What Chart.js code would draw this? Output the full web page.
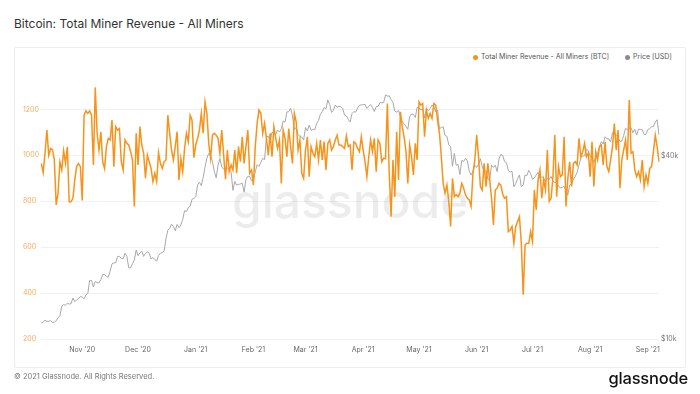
<!DOCTYPE html>
<html>
<head>
<meta charset="utf-8">
<script src="https://cdn.jsdelivr.net/npm/chart.js@4.4.1/dist/chart.umd.min.js"></script>
<style>
  html, body { margin: 0; padding: 0; background: #fff; }
  body { width: 700px; height: 394px; position: relative; overflow: hidden; font-family: Inter, "Noto Sans", sans-serif; }
  #title { position: absolute; left: 14px; top: 16px; font-size: 12px; line-height: 16px; color: #333; }
  #card { position: absolute; left: 14px; top: 47px; width: 672px; height: 321px; border: 1px solid #ececec; border-radius: 2px; box-sizing: border-box; }
  #legend { position: absolute; top: 52px; left: 473px; font-size: 7px; line-height: 9px; color: #555; white-space: nowrap; }
  #legend span.dot { display: inline-block; width: 5px; height: 5px; border-radius: 50%; margin-right: 3px; vertical-align: -0.5px; }
  #legend span.item { margin-right: 16px; }
  #footer { position: absolute; left: 14px; top: 372px; font-size: 7.5px; line-height: 10px; color: #777; }
  #logo { position: absolute; right: 12px; top: 368px; font-size: 16.5px; line-height: 20px; color: #111; font-weight: 500; letter-spacing: -0.2px; }
  canvas { position: absolute; left: 0; top: 0; }
</style>
</head>
<body>
<div id="title">Bitcoin: Total Miner Revenue - All Miners</div>
<div id="card"></div>
<div id="legend"><span class="item"><span class="dot" style="background:#f7931a"></span>Total Miner Revenue - All Miners [BTC]</span><span><span class="dot" style="background:#8a8a8a"></span>Price [USD]</span></div>
<canvas id="c" width="700" height="394"></canvas>
<div id="footer">© 2021 Glassnode. All Rights Reserved.</div>
<div id="logo">glassnode</div>
<script>
// ---- data (daily, starting 2020-10-10) ----
const startDate = '2020-10-10';

const revenueBTC = [
  965, 925, 1010, 1110, 1000, 1030, 1025, 980, 784, 835,
  972, 936, 1020, 965, 1037, 798, 798, 813, 893, 951,
  965, 951, 803, 1175, 1194, 1183, 1193, 1175, 958, 1296,
  1096, 1023, 1103, 972, 943, 1038, 1074, 1067, 1154, 951,
  1125, 1110, 1117, 972, 936, 1067, 1052, 1045, 1016, 980,
  777, 1096, 958, 1125, 1045, 1009, 900, 1001, 972, 943,
  886, 922, 886, 1012, 965, 943, 972, 980, 1175, 1096,
  1023, 980, 1038, 1103, 893, 987, 929, 1030, 1096, 1060,
  1175, 1154, 990, 1045,
  1074, 1110, 1183, 1096, 1233, 1183, 1052, 987, 1088, 1096,
  1088, 1074, 1009, 1110, 1001, 896, 1023, 929, 958, 936,
  1023, 922, 1038, 972, 1081, 965, 1038, 1110, 922, 936,
  871, 1038, 1139, 1197, 1183, 1096, 1139, 1074, 1001, 1096,
  994, 1125, 1074, 1030, 1067, 878, 1110, 1074, 994, 1117,
  1038, 965, 1183, 1146, 1023, 1067, 922, 900, 1023, 1081,
  907, 1038, 1009, 994, 1052, 980, 1067, 980, 1060, 936,
  1052, 1067, 1023, 1038, 1067, 1088, 1045, 1045, 1038, 1030,
  1085, 1038, 1045,
  936, 1059, 1052, 1030, 1016, 1081, 1023, 972, 907, 994,
  1067, 1016, 1074, 929, 1067, 1052, 972, 987, 985, 1226,
  922, 733, 980, 820, 1103, 893, 1190, 1125, 1081, 1016,
  878, 1045, 994, 915, 1052, 980, 1233, 1219, 1226, 1081,
  1197, 1161, 1183, 1161, 1226, 1219, 1150, 1096, 994, 878,
  835, 871, 799, 690, 900, 820, 828, 820, 835, 878,
  857, 828, 813, 806, 777, 920, 980, 1088, 994, 864,
  849, 965, 864, 965, 893, 813, 697, 849, 857, 878,
  870, 830, 813, 820,
  668, 675, 690, 617, 690, 712, 733, 617, 393, 610,
  617, 617, 668, 625, 849, 762, 893, 936, 813, 893,
  849, 1023, 799, 813, 907, 1088, 820, 951, 907, 915,
  1081, 777, 900, 972, 864, 965, 972, 958, 1074, 994,
  1016, 1052, 994, 1009, 907, 1059, 864, 1016, 980, 1038,
  1045, 958, 1059, 951, 929, 980, 1038, 1139, 1023, 1110,
  857, 980, 1023, 1067, 980, 1241, 1009, 1016, 936, 907,
  929, 893, 980, 864, 915, 878, 943, 951, 1016, 1088,
  1038, 972
];

const priceUSD = [
  // Oct 10 - Oct 31 2020
  11300, 11370, 11530, 11430, 11430, 11500, 11320, 11360, 11480, 11750, 11920, 12820, 12970, 12930, 13110, 13030, 13070, 13640, 13270, 13460, 13560, 13800,
  // Nov
  13740, 13550, 13960, 14130, 15580, 15580, 14830, 15480, 15330, 15300, 15700, 16280, 16320, 16070, 15960, 16730, 17680, 17800, 17820, 18680, 18710, 18420, 18370, 19160, 18720, 17150, 17140, 17720, 18180, 19630,
  // Dec
  18800, 19210, 19440, 18700, 19150, 19360, 19170, 18320, 18550, 18260, 18040, 18800, 19140, 19250, 19440, 21380, 22800, 23130, 23870, 23480, 22720, 23820, 23240, 23730, 24710, 26440, 26270, 27080, 27360, 28840, 29000,
  // Jan 2021
  29370, 32130, 32780, 31970, 33990, 36820, 39370, 40800, 40250, 38350, 35540, 33920, 37320, 39180, 36830, 36180, 35790, 36630, 36070, 35550, 30830, 32990, 32080, 32260, 32370, 32570, 30430, 33460, 34320, 34270, 33110,
  // Feb
  33510, 35510, 37470, 36930, 38140, 39270, 38900, 46200, 46480, 44920, 47910, 47500, 47110, 48720, 47940, 49200, 52150, 51680, 55890, 55920, 57490, 54210, 48820, 49710, 47080, 46340, 46190, 45140,
  // Mar
  49630, 48380, 50540, 48560, 48880, 48880, 51210, 52380, 54880, 55960, 57750, 57230, 61190, 59120, 55660, 56570, 58870, 57860, 58350, 58090, 57350, 54530, 54210, 52770, 51750, 55160, 55980, 55800, 57630, 58780, 58920,
  // Apr
  59030, 59130, 57380, 58220, 59110, 57780, 56060, 58130, 58200, 59990, 59860, 59950, 63540, 62970, 63110, 61330, 60110, 56200, 55780, 56470, 53860, 51760, 51090, 50050, 49000, 54020, 55030, 54820, 53560, 57750,
  // May
  57830, 56630, 57200, 53330, 57420, 56400, 57360, 58800, 58230, 55860, 56700, 49150, 49720, 49880, 46760, 46430, 43540, 42910, 37000, 40780, 37300, 37530, 34770, 38700, 38400, 39290, 38560, 35680, 34620, 35680, 37340,
  // Jun
  36690, 37580, 39190, 36880, 35520, 35800, 33590, 33470, 37350, 36690, 37310, 35550, 39100, 40520, 40140, 38350, 38050, 35790, 35480, 35600, 31680, 32510, 33690, 34660, 31640, 32160, 34640, 34490, 35870, 35040,
  // Jul
  33570, 33900, 34660, 35290, 33690, 34220, 33860, 32880, 33820, 33510, 34260, 33090, 32730, 32820, 31780, 31420, 31530, 31780, 30840, 29790, 32140, 32310, 33580, 34290, 35380, 37270, 39460, 40000, 40010, 42240, 41630,
  // Aug
  39970, 39200, 38150, 39750, 40870, 42830, 44610, 43790, 46280, 45600, 45550, 44430, 47790, 47100, 47040, 45990, 44700, 44800, 46720, 49340, 48900, 49320, 49550, 47710, 48990, 46850, 49070, 48900, 48810, 47050, 47170,
  // Sep 1 - Sep 7
  48850, 49280, 49940, 49940, 51770, 52660, 46860
];

const monthNames = ['Jan', 'Feb', 'Mar', 'Apr', 'May', 'Jun', 'Jul', 'Aug', 'Sep', 'Oct', 'Nov', 'Dec'];
const leftTicks = [200, 400, 600, 800, 1000, 1200];
const rightTicks = [10000, 40000];

// ---- build date categories ----
const dates = [];
{
  const t0 = Date.parse(startDate + 'T00:00:00Z');
  for (let i = 0; i < revenueBTC.length; i++) {
    const d = new Date(t0 + i * 86400000);
    dates.push(d.toISOString().slice(0, 10));
  }
}
function monthLabel(iso) {
  const [y, m, d] = iso.split('-');
  if (d !== '01') return '';
  return monthNames[parseInt(m, 10) - 1] + " '" + y.slice(2);
}

const watermark = {
  id: 'watermark',
  beforeDatasetsDraw(chart) {
    const { ctx, chartArea } = chart;
    ctx.save();
    ctx.font = '500 48px Inter, "Noto Sans", sans-serif';
    ctx.fillStyle = 'rgba(0,0,0,0.075)';
    ctx.textAlign = 'center';
    ctx.textBaseline = 'alphabetic';
    const cx = (chartArea.left + chartArea.right) / 2;
    const cy = chartArea.top + (chartArea.bottom - chartArea.top) * 0.54;
    ctx.fillText('glassnode', cx, cy);
    ctx.restore();
  }
};

new Chart(document.getElementById('c'), {
  type: 'line',
  data: {
    labels: dates,
    datasets: [
      {
        label: 'Total Miner Revenue - All Miners [BTC]',
        data: revenueBTC,
        yAxisID: 'y',
        borderColor: '#f7931a',
        borderWidth: 1.5,
        pointRadius: 0,
        tension: 0,
        fill: false
      },
      {
        label: 'Price [USD]',
        data: priceUSD,
        yAxisID: 'y2',
        borderColor: '#a8a8a8',
        borderWidth: 1,
        pointRadius: 0,
        tension: 0,
        fill: false
      }
    ]
  },
  options: {
    responsive: false,
    animation: false,
    layout: { padding: { left: 23, right: 0, top: 75, bottom: 35 } },
    plugins: { legend: { display: false }, tooltip: { enabled: false } },
    scales: {
      x: {
        type: 'category',
        grid: { display: false, drawTicks: false },
        border: { display: false },
        afterFit(s) { s.height = 20; },
        ticks: {
          autoSkip: false,
          maxRotation: 0,
          minRotation: 0,
          padding: 7,
          color: '#666',
          font: { family: 'Inter', size: 7 },
          callback(value) { return monthLabel(this.getLabelForValue(value)); }
        }
      },
      y: {
        position: 'left',
        min: 200,
        max: 1350,
        afterFit(s) { s.width = 18.3; },
        afterBuildTicks(s) { s.ticks = leftTicks.map(v => ({ value: v })); },
        grid: { color: '#f1f1f1', lineWidth: 1, drawTicks: false },
        border: { display: false },
        ticks: {
          crossAlign: 'far',
          padding: 0,
          color: 'rgba(245,150,50,0.8)',
          font: { family: 'Inter', size: 7 },
          callback(v) { return String(v); }
        }
      },
      y2: {
        type: 'logarithmic',
        position: 'right',
        min: 10000,
        max: 73900,
        afterFit(s) { s.width = 41; },
        afterBuildTicks(s) { s.ticks = rightTicks.map(v => ({ value: v })); },
        grid: { display: false, drawTicks: false },
        border: { display: false },
        ticks: {
          crossAlign: 'near',
          padding: 2,
          color: '#777',
          font: { family: 'Inter', size: 7 },
          callback(v) { return '$' + (v / 1000) + 'k'; }
        }
      }
    }
  },
  plugins: [watermark]
});
</script>
</body>
</html>
